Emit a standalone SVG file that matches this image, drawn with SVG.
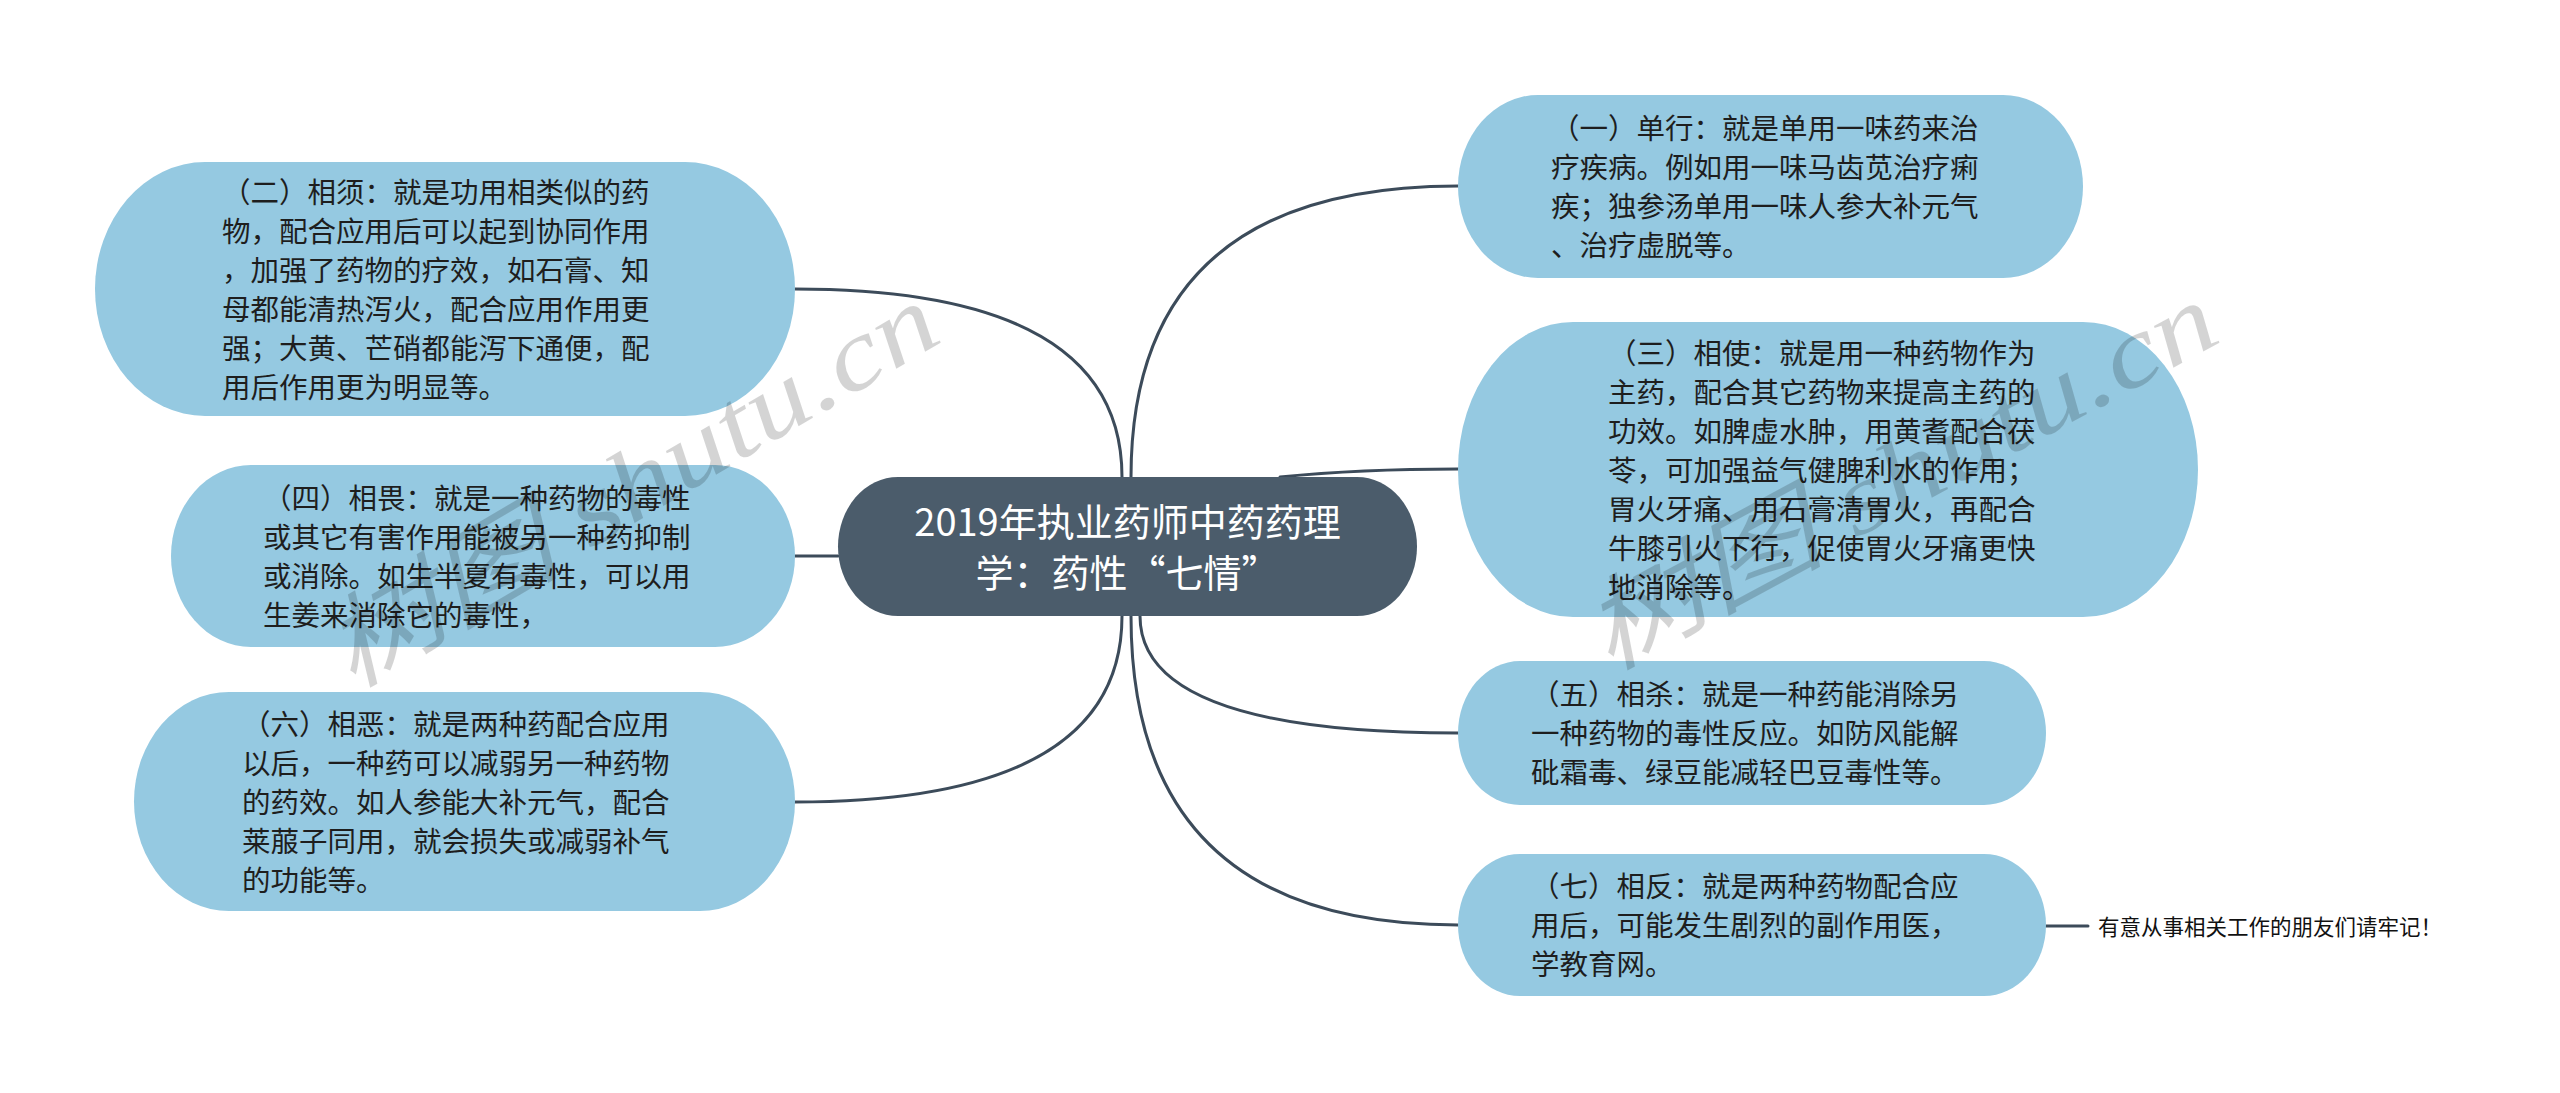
<svg xmlns="http://www.w3.org/2000/svg" width="2560" height="1093" viewBox="0 0 2560 1093">
<style>
.bg{fill:#ffffff}
.conn{fill:none;stroke:#3c4b5a;stroke-width:3;stroke-linecap:round}
.leaf{fill:#95c9e1}
.root{fill:#4b5c6b}
.t{font-family:"Noto Sans CJK SC","Noto Sans",sans-serif;font-size:28.5px;fill:#1e1e1e}
.rt{font-family:"Noto Sans CJK SC","Noto Sans",sans-serif;font-size:38px;fill:#ffffff;text-anchor:middle}
.note{font-family:"Noto Sans CJK SC","Noto Sans",sans-serif;font-size:21.5px;fill:#111111}
.wm{font-family:"Liberation Serif","Noto Sans CJK SC",serif;font-style:italic;font-size:100px;fill:#000000;fill-opacity:0.17}
</style>
<rect class="bg" x="0" y="0" width="2560" height="1093"/>
<g id="connectors">
<path class="conn" d="M1122,477 Q1122,289 795,289"/>
<path class="conn" d="M1131,477 Q1131,186 1458,186"/>
<path class="conn" d="M1280,477 C1330,472 1380,469 1458,469"/>
<path class="conn" d="M838,556 L795,556"/>
<path class="conn" d="M1122,616 Q1122,802 795,802"/>
<path class="conn" d="M1140,616 Q1140,733 1458,733"/>
<path class="conn" d="M1131,616 Q1131,925 1458,925"/>
<path class="conn" d="M2046,926 L2088,926"/>
</g>
<g id="root">
<rect class="root" x="838" y="477" width="579" height="139" rx="60" ry="69.5"/>
<text class="rt"><tspan x="1127.5" y="536">2019年执业药师中药药理</tspan><tspan x="1127.5" y="587">学：药性“七情”</tspan></text>
</g>
<g id="node2">
<rect class="leaf" x="95" y="162" width="700" height="254" rx="110" ry="127"/>
<text class="t"><tspan x="222" y="202.5">（二）相须：就是功用相类似的药</tspan><tspan x="222" y="241.5">物，配合应用后可以起到协同作用</tspan><tspan x="222" y="280.5">，加强了药物的疗效，如石膏、知</tspan><tspan x="222" y="319.5">母都能清热泻火，配合应用作用更</tspan><tspan x="222" y="358.5">强；大黄、芒硝都能泻下通便，配</tspan><tspan x="222" y="397.5">用后作用更为明显等。</tspan></text>
</g>
<g id="node4">
<rect class="leaf" x="171" y="465" width="624" height="182" rx="80" ry="91"/>
<text class="t"><tspan x="263" y="508.5">（四）相畏：就是一种药物的毒性</tspan><tspan x="263" y="547.5">或其它有害作用能被另一种药抑制</tspan><tspan x="263" y="586.5">或消除。如生半夏有毒性，可以用</tspan><tspan x="263" y="625.5">生姜来消除它的毒性，</tspan></text>
</g>
<g id="node6">
<rect class="leaf" x="134" y="692" width="661" height="219" rx="95" ry="109.5"/>
<text class="t"><tspan x="242" y="734.5">（六）相恶：就是两种药配合应用</tspan><tspan x="242" y="773.5">以后，一种药可以减弱另一种药物</tspan><tspan x="242" y="812.5">的药效。如人参能大补元气，配合</tspan><tspan x="242" y="851.5">莱菔子同用，就会损失或减弱补气</tspan><tspan x="242" y="890.5">的功能等。</tspan></text>
</g>
<g id="node1">
<rect class="leaf" x="1458" y="95" width="625" height="183" rx="80" ry="91.5"/>
<text class="t"><tspan x="1551" y="139">（一）单行：就是单用一味药来治</tspan><tspan x="1551" y="178">疗疾病。例如用一味马齿苋治疗痢</tspan><tspan x="1551" y="217">疾；独参汤单用一味人参大补元气</tspan><tspan x="1551" y="256">、治疗虚脱等。</tspan></text>
</g>
<g id="node3">
<rect class="leaf" x="1458" y="322" width="740" height="295" rx="115" ry="147.5"/>
<text class="t"><tspan x="1608" y="363.5">（三）相使：就是用一种药物作为</tspan><tspan x="1608" y="402.5">主药，配合其它药物来提高主药的</tspan><tspan x="1608" y="441.5">功效。如脾虚水肿，用黄耆配合茯</tspan><tspan x="1608" y="480.5">苓，可加强益气健脾利水的作用；</tspan><tspan x="1608" y="519.5">胃火牙痛、用石膏清胃火，再配合</tspan><tspan x="1608" y="558.5">牛膝引火下行，促使胃火牙痛更快</tspan><tspan x="1608" y="597.5">地消除等。</tspan></text>
</g>
<g id="node5">
<rect class="leaf" x="1458" y="661" width="588" height="144" rx="62" ry="72"/>
<text class="t"><tspan x="1531" y="705">（五）相杀：就是一种药能消除另</tspan><tspan x="1531" y="744">一种药物的毒性反应。如防风能解</tspan><tspan x="1531" y="783">砒霜毒、绿豆能减轻巴豆毒性等。</tspan></text>
</g>
<g id="node7">
<rect class="leaf" x="1458" y="854" width="588" height="142" rx="62" ry="71"/>
<text class="t"><tspan x="1531" y="897">（七）相反：就是两种药物配合应</tspan><tspan x="1531" y="936">用后，可能发生剧烈的副作用医，</tspan><tspan x="1531" y="975">学教育网。</tspan></text>
</g>
<g id="note7">
<text class="note" x="2098" y="935">有意从事相关工作的朋友们请牢记！</text>
</g>
<g id="watermark">
<text class="wm" transform="translate(351,690) rotate(-30.5)" textLength="690" lengthAdjust="spacingAndGlyphs">树图 shutu.cn</text>
<text class="wm" transform="translate(1608,672) rotate(-28.3)" textLength="700" lengthAdjust="spacingAndGlyphs">树图 shutu.cn</text>
</g>
</svg>
